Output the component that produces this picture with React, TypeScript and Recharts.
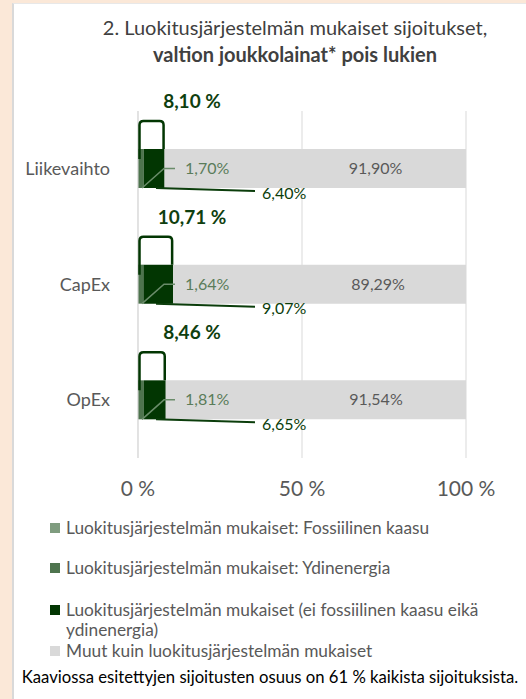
import { BarChart, Bar, XAxis, YAxis, CartesianGrid, LabelList } from 'recharts'

const categories = ['Liikevaihto', 'CapEx', 'OpEx']
const fossilGas = [0, 0, 0]
const nuclear = [1.7, 1.64, 1.81]
const otherAligned = [6.4, 9.07, 6.65]
const notAligned = [91.9, 89.29, 91.54]
const totals = [8.1, 10.71, 8.46]
const xTicks = [0, 50, 100]

const seriesNames = [
  'Luokitusjärjestelmän mukaiset: Fossiilinen kaasu',
  'Luokitusjärjestelmän mukaiset: Ydinenergia',
  'Luokitusjärjestelmän mukaiset (ei fossiilinen kaasu eikä ydinenergia)',
  'Muut kuin luokitusjärjestelmän mukaiset',
]
const seriesColors = ['#7f9c7f', '#4e744e', '#023602', '#d9d9d9']
const legendGaps = [0, 20, 22, 1]

const titleLine1 = '2. Luokitusjärjestelmän mukaiset sijoitukset,'
const titleLine2 = 'valtion joukkolainat* pois lukien'
const footnote = 'Kaaviossa esitettyjen sijoitusten osuus on 61 % kaikista sijoituksista.'

const FONT = 'Lato, "Open Sans", sans-serif'

const data = categories.map((name, i) => ({
  name,
  fossil: fossilGas[i],
  nuclear: nuclear[i],
  other: otherAligned[i],
  rest: notAligned[i],
}))

const pct = (v: number) => v.toFixed(2).replace('.', ',') + '%'

// the annotations all hang off the last (grey) segment, which is drawn on top
function geom(props: any) {
  const vb = props.viewBox || props
  const x = Number(vb.x)
  const y = Number(vb.y)
  const width = Number(vb.width)
  const height = Number(vb.height)
  const i = props.index as number
  const ppu = width / notAligned[i]
  const x0 = x - totals[i] * ppu
  return { x, y, width, height, i, ppu, x0 }
}

function RestLabel(props: any) {
  const { x, y, width, height, i } = geom(props)
  return (
    <text x={x + width * 0.7} y={y + height / 2} dy="0.35em" textAnchor="middle" fill="#595959" fontSize={16} fontFamily={FONT}>
      {pct(notAligned[i])}
    </text>
  )
}

function NuclearLabel(props: any) {
  const { y, height, i, x0 } = geom(props)
  const cy = y + height / 2
  const bottom = y + height
  return (
    <g>
      <polyline points={`${x0 + 4},${bottom} ${x0 + 26},${cy} ${x0 + 37},${cy}`} fill="none" stroke="#6a8c6a" strokeWidth={1.5} />
      <text x={x0 + 47} y={cy} dy="0.35em" fill="#5a7c5a" fontSize={16} fontFamily={FONT}>
        {pct(nuclear[i])}
      </text>
    </g>
  )
}

function OtherLabel(props: any) {
  const { y, height, i, x0 } = geom(props)
  const bottom = y + height
  return (
    <g>
      <line x1={x0 + 18} y1={bottom} x2={x0 + 117} y2={bottom + 3} stroke="#0b3d0b" strokeWidth={2} />
      <text x={x0 + 124} y={bottom + 5} dy="0.35em" fill="#0b3d0b" fontSize={16} fontFamily={FONT}>
        {pct(otherAligned[i])}
      </text>
    </g>
  )
}

function TotalBracket(props: any) {
  const { x, y, i, x0 } = geom(props)
  const top = y - 28
  const r = 4
  const l = x0 + 1.5
  const rt = x - 1
  const d = `M ${l} ${y + 10} L ${l} ${top + r} Q ${l} ${top} ${l + r} ${top} L ${rt - r} ${top} Q ${rt} ${top} ${rt} ${top + r} L ${rt} ${y}`
  return (
    <g>
      <path d={d} fill="none" stroke="#023602" strokeWidth={2.5} />
      <text x={x0 + 54} y={y - 41} textAnchor="middle" fill="#0f3f0f" fontSize={19} fontWeight="bold" fontFamily={FONT}>
        {totals[i].toFixed(2).replace('.', ',') + ' %'}
      </text>
    </g>
  )
}

function CategoryTick({ x, y, payload }: any) {
  return (
    <text x={x - 20} y={y} dy="0.35em" textAnchor="end" fill="#595959" fontSize={18} fontFamily={FONT}>
      {payload.value}
    </text>
  )
}

function PercentTick({ x, y, payload }: any) {
  return (
    <text x={x} y={y + 31} dy="0.35em" textAnchor="middle" fill="#595959" fontSize={21} fontFamily={FONT}>
      {payload.value + ' %'}
    </text>
  )
}

export default function App() {
  return (
    <div style={{ position: 'fixed', left: 0, top: 0, width: 526, height: 699, background: '#fbe8d8', fontFamily: FONT }}>
      <div
        style={{
          position: 'absolute',
          left: 12,
          top: 3,
          width: 512,
          height: 696,
          background: '#fff',
          borderLeft: '2px solid #d9d9d9',
          borderTop: '1px solid #e8e8e8',
        }}
      />
      <div style={{ position: 'absolute', left: 75, top: 14, width: 440, textAlign: 'center', color: '#404040', fontSize: 20, lineHeight: '27px' }}>
        <div>{titleLine1}</div>
        <div style={{ fontWeight: 'bold' }}>{titleLine2}</div>
      </div>

      <div style={{ position: 'absolute', left: 0, top: 0 }}>
        <BarChart
          width={526}
          height={500}
          layout="vertical"
          data={data}
          margin={{ top: 111, right: 60, bottom: 0, left: 8 }}
          barSize={39}
        >
          <CartesianGrid horizontal={false} stroke="#d9d9d9" />
          <XAxis
            type="number"
            domain={[0, 100]}
            ticks={xTicks}
            axisLine={false}
            tickLine={false}
            tickSize={0}
            tickMargin={0}
            height={42}
            tick={<PercentTick />}
          />
          <YAxis
            type="category"
            dataKey="name"
            width={130}
            axisLine={{ stroke: '#d9d9d9' }}
            tickLine={false}
            tick={<CategoryTick />}
          />
          <Bar dataKey="fossil" stackId="a" fill={seriesColors[0]} isAnimationActive={false} />
          <Bar dataKey="nuclear" stackId="a" fill={seriesColors[1]} isAnimationActive={false} />
          <Bar dataKey="other" stackId="a" fill={seriesColors[2]} isAnimationActive={false} />
          <Bar dataKey="rest" stackId="a" fill={seriesColors[3]} isAnimationActive={false}>
            <LabelList dataKey="rest" content={<RestLabel />} />
            <LabelList dataKey="rest" content={<NuclearLabel />} />
            <LabelList dataKey="rest" content={<OtherLabel />} />
            <LabelList dataKey="rest" content={<TotalBracket />} />
          </Bar>
        </BarChart>
      </div>

      <div style={{ position: 'absolute', left: 50, top: 518, color: '#595959', fontSize: 17.3, lineHeight: '20px' }}>
        {seriesNames.map((n, i) => (
          <div key={n} style={{ display: 'flex', alignItems: 'flex-start', marginTop: legendGaps[i], maxWidth: 450 }}>
            <span style={{ width: 10, height: 10, background: seriesColors[i], marginTop: 5, marginRight: 6, flex: 'none' }} />
            <span>{n}</span>
          </div>
        ))}
      </div>

      <div style={{ position: 'absolute', left: 14, width: 512, top: 666, textAlign: 'center', color: '#000', fontSize: 16.7, lineHeight: '22px' }}>
        {footnote}
      </div>
    </div>
  )
}
